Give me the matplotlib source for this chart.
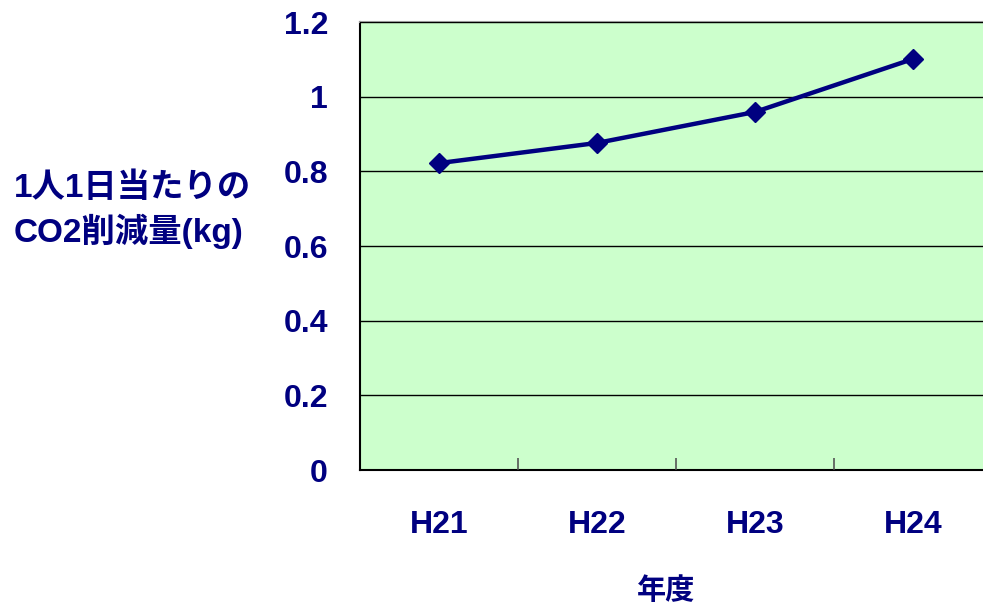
import matplotlib
matplotlib.use('Agg')
import matplotlib.pyplot as plt
from matplotlib.ticker import FixedLocator, NullFormatter

# data
years = ['H21', 'H22', 'H23', 'H24']
co2_cut = [0.822, 0.876, 0.959, 1.101]
y_ticks = [0, 0.2, 0.4, 0.6, 0.8, 1.0, 1.2]
y_labels = ['0', '0.2', '0.4', '0.6', '0.8', '1', '1.2']

navy = '#000080'
fonts = ['Liberation Sans', 'Noto Sans CJK JP', 'DejaVu Sans']
plt.rcParams['font.family'] = fonts

fig = plt.figure(figsize=(9.83, 6.05), dpi=100)
ax = fig.add_axes([360 / 983, 135 / 605, 632 / 983, 448 / 605])
ax.set_facecolor('#CCFFCC')

x = list(range(len(years)))
ax.plot(x, co2_cut, color=navy, lw=3.2, marker='D', ms=10.5, zorder=3)

ax.set_xlim(-0.5, len(years) - 0.5)
ax.set_ylim(0, 1.2)

ax.set_yticks(y_ticks)
ax.set_yticklabels(y_labels, fontsize=23, fontweight='bold', color=navy)
ax.tick_params(axis='y', length=0, pad=23)
ax.yaxis.grid(True, color='black', lw=1)
ax.set_axisbelow(False)

ax.set_xticks(x)
ax.set_xticklabels(years, fontsize=23, fontweight='bold', color=navy)
ax.tick_params(axis='x', which='major', length=0, pad=29)
ax.xaxis.set_minor_locator(FixedLocator([0.5, 1.5, 2.5]))
ax.xaxis.set_minor_formatter(NullFormatter())
ax.tick_params(axis='x', which='minor', direction='in', length=9, color='#555555', width=1.2)

ax.spines['left'].set_color('black')
ax.spines['bottom'].set_color('black')
ax.spines['top'].set_color('#999999')
ax.spines['right'].set_visible(False)
for s in ax.spines.values():
    s.set_linewidth(1.5)

fig.text(14 / 983, 1 - 211 / 605, '1人1日当たりの\nCO2削減量(kg)', fontsize=24,
         fontweight='bold', color=navy, ha='left', va='center', linespacing=1.35)
fig.text(666 / 983, 1 - 591 / 605, '年度', fontsize=21, fontweight='bold',
         color=navy, ha='center', va='center')

fig.savefig('out.png', dpi=100)
